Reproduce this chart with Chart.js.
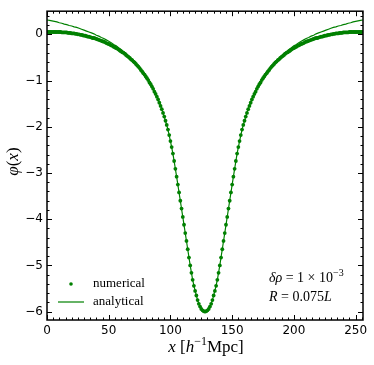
<!DOCTYPE html>
<html>
<head>
<meta charset="utf-8">
<script src="https://cdn.jsdelivr.net/npm/chart.js@4.4.1/dist/chart.umd.min.js"></script>
<style>
  html, body { margin: 0; padding: 0; background: #fff; }
  #wrap { width: 374px; height: 365px; }
</style>
</head>
<body>
<div id="wrap"><canvas id="phi-chart"></canvas></div>
<script>
// Numerical potential, one value per grid cell, x = 0 .. 256
const numericalPhi = [
    0.05, 0.05, 0.05, 0.05, 0.05, 0.05, 0.05, 0.05, 0.05, 0.05,
    0.05, 0.05, 0.04, 0.04, 0.04, 0.04, 0.04, 0.03, 0.03, 0.03,
    0.02, 0.02, 0.02, 0.01, 0.01, 0.00, 0.00, -0.01, -0.01, -0.02,
    -0.03, -0.03, -0.04, -0.05, -0.05, -0.06, -0.07, -0.08, -0.08, -0.09,
    -0.10, -0.11, -0.12, -0.13, -0.14, -0.15, -0.16, -0.17, -0.19, -0.20,
    -0.21, -0.22, -0.24, -0.25, -0.27, -0.28, -0.30, -0.31, -0.33, -0.35,
    -0.37, -0.39, -0.40, -0.42, -0.45, -0.47, -0.49, -0.51, -0.54, -0.56,
    -0.59, -0.61, -0.64, -0.67, -0.70, -0.73, -0.77, -0.80, -0.84, -0.87,
    -0.91, -0.95, -0.99, -1.04, -1.08, -1.13, -1.18, -1.24, -1.29, -1.35,
    -1.41, -1.48, -1.55, -1.62, -1.70, -1.78, -1.87, -1.96, -2.06, -2.18,
    -2.31, -2.44, -2.58, -2.74, -2.91, -3.08, -3.25, -3.42, -3.60, -3.77,
    -3.95, -4.12, -4.30, -4.47, -4.65, -4.83, -5.00, -5.16, -5.31, -5.44,
    -5.55, -5.65, -5.75, -5.83, -5.89, -5.94, -5.97, -5.99, -6.00,
    -5.99, -5.97, -5.94, -5.89, -5.83, -5.75, -5.65, -5.55,
    -5.44, -5.31, -5.16, -5.00, -4.83, -4.65, -4.47, -4.30, -4.12, -3.95,
    -3.77, -3.60, -3.42, -3.25, -3.08, -2.91, -2.74, -2.58, -2.44, -2.31,
    -2.18, -2.06, -1.96, -1.87, -1.78, -1.70, -1.62, -1.55, -1.48, -1.41,
    -1.35, -1.29, -1.24, -1.18, -1.13, -1.08, -1.04, -0.99, -0.95, -0.91,
    -0.87, -0.84, -0.80, -0.77, -0.73, -0.70, -0.67, -0.64, -0.61, -0.59,
    -0.56, -0.54, -0.51, -0.49, -0.47, -0.45, -0.42, -0.40, -0.39, -0.37,
    -0.35, -0.33, -0.31, -0.30, -0.28, -0.27, -0.25, -0.24, -0.22, -0.21,
    -0.20, -0.19, -0.17, -0.16, -0.15, -0.14, -0.13, -0.12, -0.11, -0.10,
    -0.09, -0.08, -0.08, -0.07, -0.06, -0.05, -0.05, -0.04, -0.03, -0.03,
    -0.02, -0.01, -0.01, 0.00, 0.00, 0.01, 0.01, 0.02, 0.02, 0.02,
    0.03, 0.03, 0.03, 0.04, 0.04, 0.04, 0.04, 0.04, 0.05, 0.05,
    0.05, 0.05, 0.05, 0.05, 0.05, 0.05, 0.05, 0.05, 0.05, 0.05
];
const numericalStep = 1;

// Analytical potential, every 2 units, x = 0 .. 256
const analyticalPhi = [
    0.31, 0.30, 0.29, 0.28, 0.27, 0.25, 0.24, 0.22, 0.21, 0.19,
    0.18, 0.16, 0.15, 0.13, 0.11, 0.09, 0.07, 0.05, 0.03, 0.01,
    -0.02, -0.04, -0.07, -0.09, -0.12, -0.15, -0.18, -0.22, -0.25, -0.29,
    -0.33, -0.37, -0.41, -0.46, -0.51, -0.56, -0.62, -0.68, -0.75, -0.82,
    -0.90, -0.98, -1.07, -1.17, -1.29, -1.41, -1.54, -1.70, -1.87, -2.06,
    -2.31, -2.58, -2.91, -3.25, -3.60, -3.95, -4.30, -4.65, -5.00, -5.31,
    -5.55, -5.75, -5.89, -5.97, -6.00,
    -5.97, -5.89, -5.75, -5.55,
    -5.31, -5.00, -4.65, -4.30, -3.95, -3.60, -3.25, -2.91, -2.58, -2.31,
    -2.06, -1.87, -1.70, -1.54, -1.41, -1.29, -1.17, -1.07, -0.98, -0.90,
    -0.82, -0.75, -0.68, -0.62, -0.56, -0.51, -0.46, -0.41, -0.37, -0.33,
    -0.29, -0.25, -0.22, -0.18, -0.15, -0.12, -0.09, -0.07, -0.04, -0.02,
    0.01, 0.03, 0.05, 0.07, 0.09, 0.11, 0.13, 0.15, 0.16, 0.18,
    0.19, 0.21, 0.22, 0.24, 0.25, 0.27, 0.28, 0.29, 0.30, 0.31
];
const analyticalStep = 2;

// Axes
const xRange = [0, 256];
const yRange = [-6.18, 0.5];
const xTicks = [0, 50, 100, 150, 200, 250];
const yTicks = [-6, -5, -4, -3, -2, -1, 0];
const xMinorStep = 5;
const yMinorStep = 0.2;

const GREEN = '#008000';
const SERIF = '"Liberation Serif", "DejaVu Serif", serif';
const SANS = '"DejaVu Sans", sans-serif';

// Draw a sequence of text pieces with different fonts on one line
function drawRuns(ctx, runs, x, y, align) {
    let total = 0;
    runs.forEach(r => { ctx.font = r.font; total += ctx.measureText(r.text).width; });
    let cx = align === 'center' ? x - total / 2 : x;
    runs.forEach(r => {
        ctx.font = r.font;
        ctx.fillText(r.text, cx, y + (r.dy || 0));
        cx += ctx.measureText(r.text).width;
    });
}

// Frame, inward ticks, axis titles, legend and annotation
const decorPlugin = {
    id: 'decor',
    afterDraw(chart) {
        const { ctx, chartArea: a, scales: { x, y } } = chart;
        ctx.save();
        ctx.strokeStyle = '#000';
        ctx.lineWidth = 1;
        ctx.beginPath();
        for (let v = xRange[0]; v <= xRange[1]; v += xMinorStep) {
            const px = Math.round(x.getPixelForValue(v)) + 0.5;
            const len = xTicks.includes(v) ? 5 : 2.5;
            ctx.moveTo(px, a.bottom); ctx.lineTo(px, a.bottom - len);
            ctx.moveTo(px, a.top); ctx.lineTo(px, a.top + len);
        }
        for (let k = Math.ceil(yRange[0] / yMinorStep); k * yMinorStep <= yRange[1] + 1e-9; k++) {
            const v = k * yMinorStep;
            const py = Math.round(y.getPixelForValue(v)) + 0.5;
            const major = Math.abs(v - Math.round(v)) < 1e-6;
            const len = major ? 5 : 2.5;
            ctx.moveTo(a.left, py); ctx.lineTo(a.left + len, py);
            ctx.moveTo(a.right, py); ctx.lineTo(a.right - len, py);
        }
        ctx.stroke();

        ctx.lineWidth = 1.5;
        ctx.strokeRect(a.left, a.top, a.right - a.left, a.bottom - a.top);

        ctx.fillStyle = '#000';
        ctx.textBaseline = 'middle';

        // x axis title
        drawRuns(ctx, [
            { text: 'x', font: `italic 17px ${SERIF}` },
            { text: ' [', font: `17px ${SERIF}` },
            { text: 'h', font: `italic 17px ${SERIF}` },
            { text: '\u22121', font: `12px ${SERIF}`, dy: -6 },
            { text: 'Mpc]', font: `17px ${SERIF}` }
        ], (a.left + a.right) / 2 + 1, 348, 'center');

        // y axis title
        ctx.save();
        ctx.translate(14, (a.top + a.bottom) / 2 - 4);
        ctx.rotate(-Math.PI / 2);
        drawRuns(ctx, [
            { text: '\u03c6', font: `italic 17px ${SERIF}` },
            { text: '(', font: `17px ${SERIF}` },
            { text: 'x', font: `italic 17px ${SERIF}` },
            { text: ')', font: `17px ${SERIF}` }
        ], 0, 0, 'center');
        ctx.restore();

        // legend
        const lx = a.left, ly = a.bottom;
        ctx.fillStyle = GREEN;
        ctx.beginPath();
        ctx.arc(lx + 24, ly - 36, 1.8, 0, Math.PI * 2);
        ctx.fill();
        ctx.strokeStyle = GREEN;
        ctx.lineWidth = 1.2;
        ctx.beginPath();
        ctx.moveTo(lx + 11, ly - 18); ctx.lineTo(lx + 37, ly - 18);
        ctx.stroke();
        ctx.fillStyle = '#000';
        ctx.font = `13px ${SERIF}`;
        ctx.fillText('numerical', lx + 46, ly - 36);
        ctx.fillText('analytical', lx + 46, ly - 18);

        // annotation
        const ax = a.right - 94;
        drawRuns(ctx, [
            { text: '\u03b4\u03c1', font: `italic 14px ${SERIF}` },
            { text: ' = 1 \u00d7 10', font: `14px ${SERIF}` },
            { text: '\u22123', font: `10px ${SERIF}`, dy: -5 }
        ], ax, ly - 42, 'left');
        drawRuns(ctx, [
            { text: 'R', font: `italic 14px ${SERIF}` },
            { text: ' = 0.075', font: `14px ${SERIF}` },
            { text: 'L', font: `italic 14px ${SERIF}` }
        ], ax, ly - 23, 'left');
        ctx.restore();
    }
};

function buildChart() {
    const ctx = document.getElementById('phi-chart').getContext('2d');
    new Chart(ctx, {
        type: 'scatter',
        data: {
            datasets: [
                {
                    label: 'analytical',
                    data: analyticalPhi.map((v, i) => ({ x: i * analyticalStep, y: v })),
                    showLine: true,
                    borderColor: GREEN,
                    borderWidth: 1.2,
                    pointRadius: 0,
                    tension: 0
                },
                {
                    label: 'numerical',
                    data: numericalPhi.map((v, i) => ({ x: i * numericalStep, y: v })),
                    showLine: false,
                    backgroundColor: GREEN,
                    borderWidth: 0,
                    pointRadius: 1.9
                }
            ]
        },
        options: {
            responsive: true,
            maintainAspectRatio: false,
            animation: false,
            layout: { padding: { top: 7, right: 11, left: 0, bottom: 0 } },
            plugins: { legend: { display: false }, tooltip: { enabled: false } },
            scales: {
                x: {
                    type: 'linear',
                    min: xRange[0],
                    max: xRange[1],
                    grid: { display: false, drawTicks: false },
                    border: { display: false },
                    afterBuildTicks: s => { s.ticks = xTicks.map(v => ({ value: v })); },
                    afterFit: s => { s.height = 45; },
                    ticks: {
                        autoSkip: false,
                        maxRotation: 0,
                        padding: 4,
                        color: '#000',
                        font: { family: SANS, size: 12 }
                    }
                },
                y: {
                    type: 'linear',
                    min: yRange[0],
                    max: yRange[1],
                    grid: { display: false, drawTicks: false },
                    border: { display: false },
                    afterBuildTicks: s => { s.ticks = yTicks.map(v => ({ value: v })); },
                    afterFit: s => { s.width = 47; },
                    ticks: {
                        autoSkip: false,
                        padding: 4,
                        color: '#000',
                        font: { family: SANS, size: 12 },
                        callback: v => String(v).replace('-', '\u2212')
                    }
                }
            }
        },
        plugins: [decorPlugin]
    });
}

window.onload = buildChart;
</script>
</body>
</html>
